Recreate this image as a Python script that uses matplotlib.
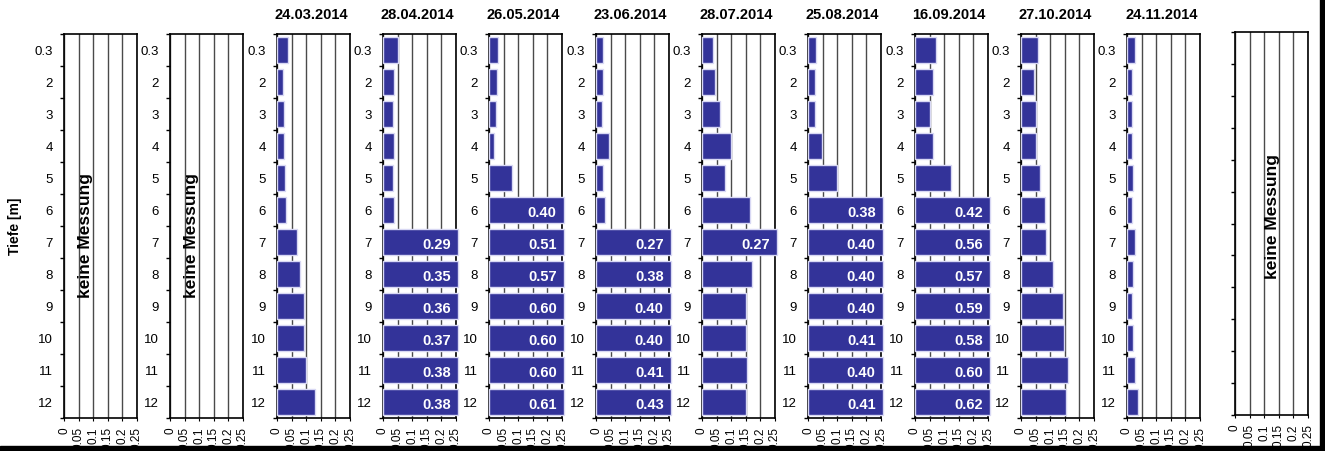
import numpy as np
import matplotlib.pyplot as plt
from matplotlib.patches import Rectangle

plt.rcParams['font.family'] = ['Liberation Sans', 'DejaVu Sans']

# Tiefen (Kategorien) und Messtermine
depths = ['0.3', '2', '3', '4', '5', '6', '7', '8', '9', '10', '11', '12']
dates = ['', '', '24.03.2014', '28.04.2014', '26.05.2014', '23.06.2014',
         '28.07.2014', '25.08.2014', '16.09.2014', '27.10.2014', '24.11.2014', '']

v_2403 = [0.037, 0.022, 0.025, 0.025, 0.027, 0.032, 0.070, 0.079, 0.091, 0.094, 0.100, 0.130]
v_2804 = [0.051, 0.037, 0.033, 0.037, 0.033, 0.037, 0.29, 0.35, 0.36, 0.37, 0.38, 0.38]
v_2605 = [0.031, 0.026, 0.025, 0.018, 0.078, 0.40, 0.51, 0.57, 0.60, 0.60, 0.60, 0.61]
v_2306 = [0.025, 0.024, 0.021, 0.046, 0.023, 0.030, 0.27, 0.38, 0.40, 0.40, 0.41, 0.43]
v_2807 = [0.037, 0.046, 0.062, 0.100, 0.079, 0.164, 0.27, 0.171, 0.151, 0.151, 0.154, 0.151]
v_2508 = [0.029, 0.023, 0.024, 0.048, 0.099, 0.38, 0.40, 0.40, 0.40, 0.41, 0.40, 0.41]
v_1609 = [0.071, 0.060, 0.050, 0.060, 0.122, 0.42, 0.56, 0.57, 0.59, 0.58, 0.60, 0.62]
v_2710 = [0.058, 0.046, 0.050, 0.050, 0.065, 0.082, 0.087, 0.111, 0.143, 0.146, 0.160, 0.155]
v_2411 = [0.026, 0.018, 0.018, 0.017, 0.022, 0.016, 0.026, 0.021, 0.018, 0.019, 0.026, 0.039]

series = [None, None, v_2403, v_2804, v_2605, v_2306, v_2807, v_2508, v_1609,
          v_2710, v_2411, None]

xticks = [0, 0.05, 0.1, 0.15, 0.2, 0.25]
xticklabels = ['0', '0.05', '0.1', '0.15', '0.2', '0.25']

W, H = 1325, 452
fig = plt.figure(figsize=(W / 100, H / 100), dpi=100)

lefts = [64, 170, 277, 383, 489, 596, 702, 808, 915, 1021, 1127, 1235]
bar_color = '#333399'

for i, (left, vals, date) in enumerate(zip(lefts, series, dates)):
    top, bottom = (35, 419) if i < 11 else (33, 416)
    ax = fig.add_axes([left / W, 1 - bottom / H, 73 / W, (bottom - top) / H])
    y = np.arange(len(depths))
    ax.set_xlim(0, 0.25)
    ax.set_ylim(len(depths) - 0.5, -0.5)
    ax.set_xticks(xticks)
    ax.set_xticklabels(xticklabels, rotation=90, fontsize=8.5)
    ax.set_yticks(y)
    ax.set_yticks(np.arange(len(depths) + 1) - 0.5, minor=True)
    if i < 11:
        ax.set_yticklabels(depths, fontsize=9.5)
    else:
        ax.set_yticklabels([])
    ax.tick_params(axis='y', which='major', length=0, pad=8)
    ax.tick_params(axis='y', which='minor', length=3, width=1)
    ax.tick_params(axis='x', length=2, pad=4)
    ax.grid(axis='x', color='#4a4a4a', lw=1)
    ax.set_axisbelow(True)
    for s in ax.spines.values():
        s.set_color('black')
        s.set_linewidth(1.2)

    if vals is None:
        xpos, ypos = (0.29, 0.477) if i < 11 else (0.51, 0.52)
        ax.text(xpos, ypos, 'keine Messung', transform=ax.transAxes, rotation=90,
                ha='center', va='center', fontsize=12.5, fontweight='bold')
    else:
        vals = np.array(vals)
        ax.barh(y, np.minimum(vals, 0.257), height=0.8, color=bar_color,
                edgecolor='#d8d8f4', linewidth=1, clip_on=False, zorder=3)
        for yy, v in zip(y, vals):
            if v > 0.25:
                ax.text(0.232, yy + 0.05, f'{v:.2f}', color='white', fontsize=10.5,
                        fontweight='bold', ha='right', va='center', zorder=4)
        ax.text(0.47, 1 + (top - 15) / (bottom - top), date, transform=ax.transAxes,
                ha='center', va='center', fontsize=10.5, fontweight='bold')

fig.text(15 / W, 1 - 226 / H, 'Tiefe [m]', rotation=90, ha='center', va='center',
         fontsize=10, fontweight='bold')

# Rahmen unten und rechts (Bildausschnitt)
fig.add_artist(Rectangle((0, 0), 1, 5 / H, transform=fig.transFigure,
                         color='black', zorder=10))
fig.add_artist(Rectangle((1320 / W, 0), 5 / W, 1, transform=fig.transFigure,
                         color='black', zorder=10))

fig.savefig('out.png', dpi=100)
